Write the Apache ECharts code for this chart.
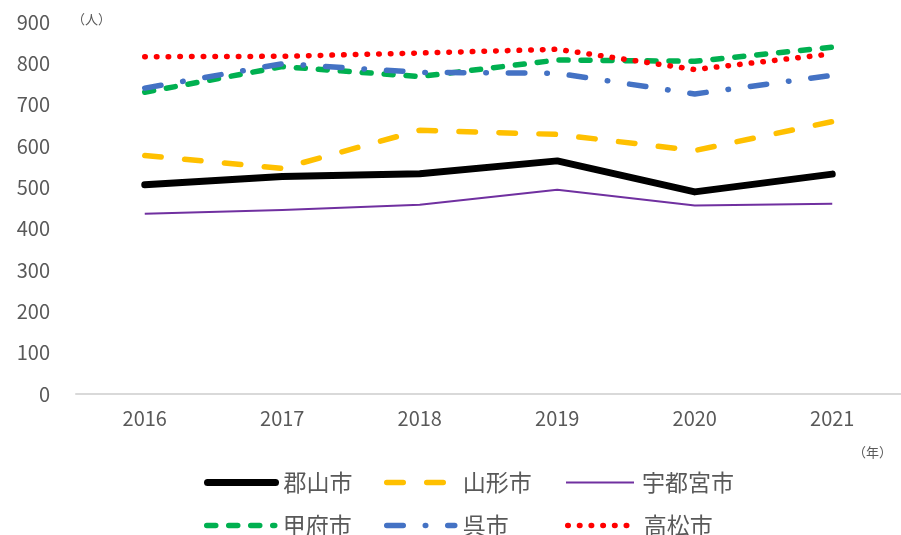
<!DOCTYPE html>
<html>
<head>
<meta charset="utf-8">
<script src="https://cdn.jsdelivr.net/npm/echarts@6/dist/echarts.min.js"></script>
<style>
  html, body { margin: 0; padding: 0; background: #fff; }
  #main { width: 901px; height: 535px; }
</style>
</head>
<body>
<div id="main"></div>
<script>
// 年
var years = ["2016", "2017", "2018", "2019", "2020", "2021"];
// 各市の人数
var koriyama = [506, 526, 533, 564, 489, 532];
var yamagata = [577, 546, 638, 628, 589, 659];
var utsunomiya = [436, 445, 458, 494, 456, 460];
var kofu = [730, 792, 768, 808, 805, 839];
var kure = [740, 799, 778, 776, 726, 771];
var takamatsu = [816, 817, 825, 834, 785, 823];
var yTicks = [0, 100, 200, 300, 400, 500, 600, 700, 800, 900];

var FONT = '"Noto Sans CJK JP", "Noto Sans", sans-serif';
var TEXT = "#595959";

var chart = echarts.init(document.getElementById("main"));

// 線の見た目
var styles = {
  "郡山市":   { color: "#000000", width: 7,   type: "solid",               cap: "round" },
  "山形市":   { color: "#FFC000", width: 5.5, type: [16.5, 23.5],          cap: "round" },
  "宇都宮市": { color: "#7030A0", width: 2,   type: "solid",               cap: "butt" },
  "甲府市":   { color: "#00B050", width: 5.5, type: [9, 13],               cap: "round" },
  "呉市":     { color: "#4472C4", width: 5.5, type: [16.5, 22, 0.5, 22],   cap: "round" },
  "高松市":   { color: "#FF0000", width: 5.5, type: [0.5, 11.2],           cap: "round" }
};

function mkSeries(name, data) {
  var s = styles[name];
  return {
    name: name,
    type: "line",
    data: data,
    symbol: "none",
    lineStyle: { color: s.color, width: s.width, type: s.type, cap: s.cap, join: "round" },
    itemStyle: { color: s.color }
  };
}

// 凡例はExcelの配置に合わせて1項目ずつ置く
function mkLegend(name, left, top) {
  var s = styles[name];
  return {
    data: [name],
    left: left + 3,
    top: top,
    padding: 0,
    itemWidth: 68,
    itemHeight: 14,
    itemStyle: { opacity: 0 },
    lineStyle: { color: s.color, width: s.width, type: s.type, cap: s.cap },
    textStyle: { color: TEXT, fontSize: 23, fontFamily: FONT, padding: [0, 0, 0, 3] },
    selectedMode: false
  };
}

var option = {
  backgroundColor: "#fff",
  animation: false,
  grid: { left: 76, top: 22, width: 827, bottom: 141 },
  legend: [
    mkLegend("郡山市", 201, 471),
    mkLegend("山形市", 381, 471),
    mkLegend("宇都宮市", 562, 471),
    mkLegend("甲府市", 201, 514),
    mkLegend("呉市", 381, 514),
    mkLegend("高松市", 562, 514)
  ],
  xAxis: {
    type: "category",
    data: years,
    boundaryGap: true,
    axisLine: { lineStyle: { color: "#D9D9D9", width: 2 } },
    axisTick: { show: false },
    axisLabel: { color: TEXT, fontSize: 20, fontFamily: FONT, margin: 14 }
  },
  yAxis: {
    type: "value",
    min: yTicks[0],
    max: yTicks[yTicks.length - 1],
    interval: 100,
    axisLine: { show: false },
    axisTick: { show: false },
    splitLine: { show: false },
    axisLabel: { color: TEXT, fontSize: 20, fontFamily: FONT, margin: 26 }
  },
  graphic: [
    { type: "text", left: 72, top: 13, style: { text: "（人）", fill: TEXT, font: "13px " + FONT } },
    { type: "text", left: 853, top: 446, style: { text: "（年）", fill: TEXT, font: "13px " + FONT } }
  ],
  series: [
    mkSeries("郡山市", koriyama),
    mkSeries("山形市", yamagata),
    mkSeries("宇都宮市", utsunomiya),
    mkSeries("甲府市", kofu),
    mkSeries("呉市", kure),
    mkSeries("高松市", takamatsu)
  ]
};

chart.setOption(option);
</script>
</body>
</html>
